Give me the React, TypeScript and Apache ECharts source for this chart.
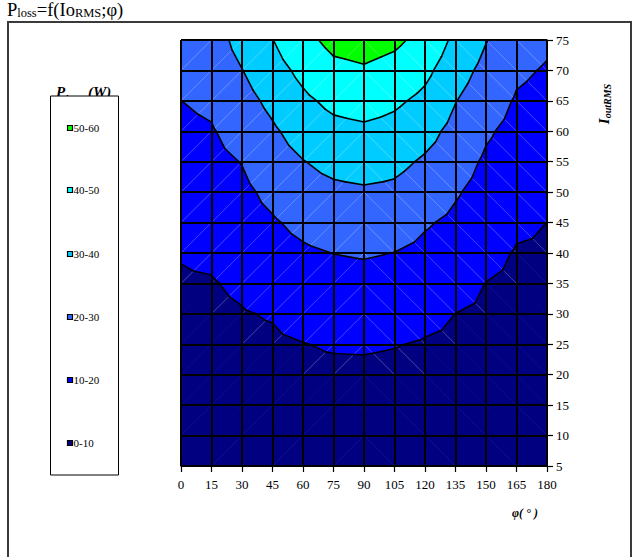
import React, { useEffect, useRef } from 'react';
import * as echarts from 'echarts';

// phase angle φ (°) – x axis
const phiDeg = [0, 15, 30, 45, 60, 75, 90, 105, 120, 135, 150, 165, 180];
// output current IoutRMS (A) – y axis
const currentA = [5, 10, 15, 20, 25, 30, 35, 40, 45, 50, 55, 60, 65, 70, 75];

// P_loss (W) at each current, one list per phase angle
const lossPhi0 = [1.2, 2.5, 3.8, 5.1, 6.4, 7.7, 9.1, 10.5, 12.4, 14.3, 16.2, 18.1, 19.96, 22.2, 24.5];
const lossPhi15 = [1.3, 2.7, 4.0, 5.4, 6.8, 8.1, 9.5, 11.3, 13.3, 15.3, 17.3, 19.35, 21.5, 23.8, 26.0];
const lossPhi30 = [1.5, 3.1, 4.7, 6.3, 7.9, 9.5, 11.4, 13.6, 15.8, 18.0, 20.3, 23.5, 26.6, 29.8, 33.0];
const lossPhi45 = [1.8, 3.5, 5.2, 6.9, 8.6, 10.6, 13.4, 16.3, 19.1, 22.3, 25.5, 28.7, 32.3, 36.1, 39.8];
const lossPhi60 = [2.0, 4.0, 5.9, 7.9, 9.8, 12.8, 15.7, 18.7, 22.2, 25.9, 29.7, 33.9, 38.1, 42.5, 47.2];
const lossPhi75 = [2.2, 4.3, 6.3, 8.4, 10.7, 13.8, 16.9, 20.1, 24.1, 28.1, 32.6, 37.3, 42.3, 47.6, 52.7];
const lossPhi90 = [2.2, 4.3, 6.4, 8.5, 10.8, 14.1, 17.3, 20.7, 24.8, 28.9, 33.6, 38.4, 43.6, 49.0, 54.0];
const lossPhi105 = [2.1, 4.1, 6.1, 8.1, 10.3, 13.5, 16.7, 19.9, 24.0, 28.1, 32.4, 36.9, 41.6, 46.8, 51.9];
const lossPhi120 = [1.9, 3.8, 5.7, 7.5, 9.4, 12.0, 14.9, 17.8, 20.9, 24.9, 28.8, 33.2, 37.7, 42.3, 47.0];
const lossPhi135 = [1.7, 3.4, 5.0, 6.7, 8.3, 9.97, 12.7, 15.4, 18.1, 20.9, 24.0, 27.1, 30.3, 34.1, 37.9];
const lossPhi150 = [1.4, 2.8, 4.2, 5.7, 7.1, 8.5, 9.9, 12.1, 14.3, 16.5, 18.7, 21.2, 24.2, 27.3, 30.4];
const lossPhi165 = [1.2, 2.4, 3.6, 4.8, 5.9, 7.1, 8.3, 9.5, 11.2, 13.2, 15.2, 17.2, 19.2, 21.4, 23.6];
const lossPhi180 = [1.1, 2.2, 3.3, 4.4, 5.5, 6.6, 7.8, 8.9, 9.98, 11.8, 13.7, 15.5, 17.4, 19.3, 21.4];

const lossByPhi = [
  lossPhi0, lossPhi15, lossPhi30, lossPhi45, lossPhi60, lossPhi75, lossPhi90,
  lossPhi105, lossPhi120, lossPhi135, lossPhi150, lossPhi165, lossPhi180,
];

const bandLevels = [0, 10, 20, 30, 40, 50, 60];
const bandLabels = ['0-10', '10-20', '20-30', '30-40', '40-50', '50-60'];
const bandColors = ['#000080', '#0000FF', '#3366FF', '#00CCFF', '#00FFFF', '#00FF00'];

const FONT = '"Liberation Serif", "Times New Roman", serif';

type P3 = [number, number, number];

function clipPoly(poly: P3[], level: number, keepAbove: boolean): P3[] {
  const out: P3[] = [];
  const n = poly.length;
  for (let k = 0; k < n; k++) {
    const a = poly[k];
    const b = poly[(k + 1) % n];
    const ina = keepAbove ? a[2] >= level : a[2] <= level;
    const inb = keepAbove ? b[2] >= level : b[2] <= level;
    if (ina) out.push(a);
    if (ina !== inb) {
      const t = (level - a[2]) / (b[2] - a[2]);
      out.push([a[0] + t * (b[0] - a[0]), a[1] + t * (b[1] - a[1]), level]);
    }
  }
  return out;
}

function cellTriangles(i: number, j: number): P3[][] {
  const p = (a: number, b: number): P3 => [phiDeg[a], currentA[b], lossByPhi[a][b]];
  const bl = p(i, j), br = p(i + 1, j), tr = p(i + 1, j + 1), tl = p(i, j + 1);
  if ((phiDeg[i] + phiDeg[i + 1]) / 2 < 90) return [[bl, br, tr], [bl, tr, tl]];
  return [[bl, br, tl], [br, tr, tl]];
}

export default function App() {
  const ref = useRef<HTMLDivElement>(null);

  useEffect(() => {
    document.body.style.margin = '0';
    if (!ref.current) return;
    const chart = echarts.init(ref.current, null, { renderer: 'svg' });

    const cells: number[][] = [];
    for (let i = 0; i < phiDeg.length - 1; i++) {
      for (let j = 0; j < currentA.length - 1; j++) {
        cells.push([phiDeg[i], currentA[j], i, j]);
      }
    }

    const fillItem = (_params: any, api: any) => {
      const i = api.value(2) as number;
      const j = api.value(3) as number;
      const children: any[] = [];
      const tris = cellTriangles(i, j);
      for (const tri of tris) {
        for (let k = 0; k < bandColors.length; k++) {
          let poly: P3[] = tri;
          if (k > 0) poly = clipPoly(poly, bandLevels[k], true);
          if (k < bandColors.length - 1) poly = clipPoly(poly, bandLevels[k + 1], false);
          if (poly.length < 3) continue;
          const pts = poly.map((q) => api.coord([q[0], q[1]]));
          children.push({
            type: 'polygon',
            shape: { points: pts },
            style: { fill: bandColors[k], stroke: bandColors[k], lineWidth: 0.8 },
          });
        }
      }
      const vals = [lossByPhi[i][j], lossByPhi[i + 1][j], lossByPhi[i][j + 1], lossByPhi[i + 1][j + 1]];
      if (Math.max(...vals) >= 10) {
        const left = (phiDeg[i] + phiDeg[i + 1]) / 2 < 90;
        const a = left ? api.coord([phiDeg[i], currentA[j]]) : api.coord([phiDeg[i], currentA[j + 1]]);
        const b = left ? api.coord([phiDeg[i + 1], currentA[j + 1]]) : api.coord([phiDeg[i + 1], currentA[j]]);
        children.push({
          type: 'line',
          shape: { x1: a[0], y1: a[1], x2: b[0], y2: b[1] },
          style: { stroke: 'rgba(255,255,255,0.3)', lineWidth: 0.8 },
        });
      }
      return { type: 'group', children };
    };

    const lineItem = (_params: any, api: any) => {
      const i = api.value(2) as number;
      const j = api.value(3) as number;
      const children: any[] = [];
      for (const tri of cellTriangles(i, j)) {
        for (let k = 1; k < bandLevels.length - 1; k++) {
          const L = bandLevels[k];
          const pts: number[][] = [];
          for (let e = 0; e < 3; e++) {
            const a = tri[e];
            const b = tri[(e + 1) % 3];
            if ((a[2] - L) * (b[2] - L) < 0) {
              const t = (L - a[2]) / (b[2] - a[2]);
              pts.push(api.coord([a[0] + t * (b[0] - a[0]), a[1] + t * (b[1] - a[1])]));
            }
          }
          if (pts.length === 2) {
            children.push({
              type: 'line',
              shape: { x1: pts[0][0], y1: pts[0][1], x2: pts[1][0], y2: pts[1][1] },
              style: { stroke: '#000', lineWidth: 1.6, lineCap: 'round' },
            });
          }
        }
      }
      return { type: 'group', children };
    };

    const legendCenters = [443, 380, 317, 254, 190, 128];
    const legendGraphics: any[] = [];
    for (let k = 0; k < bandLabels.length; k++) {
      const cy = legendCenters[k];
      legendGraphics.push({
        type: 'rect',
        shape: { x: 67.5, y: cy - 2.5, width: 5, height: 5 },
        style: { fill: bandColors[k], stroke: '#000', lineWidth: 1.2 },
      });
      legendGraphics.push({
        type: 'text',
        x: 73.5,
        y: cy,
        style: { text: bandLabels[k], fontFamily: FONT, fontSize: 11, fill: '#000', verticalAlign: 'middle', align: 'left' },
      });
    }

    const boldIt = { fontFamily: FONT, fontWeight: 'bold', fontStyle: 'italic', fill: '#000', color: '#000' };

    chart.setOption({
      animation: false,
      textStyle: { fontFamily: FONT },
      grid: { left: 181, right: 88, top: 40, bottom: 91, containLabel: false, outerBoundsMode: 'none' },
      xAxis: {
        type: 'value',
        min: 0,
        max: 180,
        interval: 15,
        position: 'bottom',
        z: 5,
        axisLine: { show: true, onZero: false, lineStyle: { color: '#000', width: 1.5 } },
        axisTick: { show: true, inside: false, length: 6, lineStyle: { color: '#000', width: 1.2 } },
        axisLabel: { color: '#000', fontFamily: FONT, fontSize: 13, margin: 12 },
        splitLine: { show: true, lineStyle: { color: '#000', width: 2 } },
      },
      yAxis: {
        type: 'value',
        min: 5,
        max: 75,
        interval: 5,
        position: 'right',
        z: 5,
        axisLine: { show: true, onZero: false, lineStyle: { color: '#000', width: 1.5 } },
        axisTick: { show: true, inside: false, length: 6, lineStyle: { color: '#000', width: 1.2 } },
        axisLabel: { color: '#000', fontFamily: FONT, fontSize: 13, margin: 9 },
        splitLine: { show: true, lineStyle: { color: '#000', width: 2 } },
      },
      series: [
        { type: 'custom', renderItem: fillItem, data: cells, z: 1, silent: true, clip: true },
        { type: 'custom', renderItem: lineItem, data: cells, z: 3, silent: true, clip: true },
      ],
      graphic: [
        {
          type: 'rect',
          shape: { x: 8, y: 22, width: 623, height: 600 },
          style: { fill: 'none', stroke: '#3a3a3a', lineWidth: 2 },
        },
        {
          type: 'text',
          x: 7,
          y: 0,
          style: {
            text: '{m|P}{s|loss}{m|=f(Io}{s|RMS}{m|;φ)}',
            align: 'left',
            verticalAlign: 'top',
            rich: {
              m: { fontFamily: FONT, fontSize: 18.5, lineHeight: 19, verticalAlign: 'top', fill: '#000', color: '#000' },
              s: { fontFamily: FONT, fontSize: 12.5, lineHeight: 12, padding: [10, 0, 0, 0], verticalAlign: 'bottom', fill: '#000', color: '#000' },
            },
          },
        },
        // legend title: subscript sits mostly under the legend box, as in the reference
        {
          type: 'text',
          x: 56,
          y: 99,
          style: { text: 'P', ...boldIt, fontSize: 15, align: 'left', verticalAlign: 'bottom' },
        },
        {
          type: 'text',
          x: 65.5,
          y: 93.5,
          style: { text: 'loss', ...boldIt, fontSize: 10, align: 'left', verticalAlign: 'top' },
        },
        {
          type: 'text',
          x: 88,
          y: 99,
          style: { text: '(W)', ...boldIt, fontSize: 15, align: 'left', verticalAlign: 'bottom' },
        },
        {
          type: 'rect',
          shape: { x: 50.5, y: 96, width: 68, height: 379 },
          style: { fill: '#fff', stroke: '#000', lineWidth: 1 },
        },
        ...legendGraphics,
        {
          type: 'text',
          x: 604,
          y: 104,
          rotation: Math.PI / 2,
          style: {
            text: '{m|I}{s|outRMS}',
            align: 'center',
            verticalAlign: 'middle',
            rich: {
              m: { ...boldIt, fontSize: 15, lineHeight: 16, verticalAlign: 'top' },
              s: { ...boldIt, fontSize: 10, lineHeight: 10, padding: [9, 0, 0, 0], verticalAlign: 'bottom' },
            },
          },
        },
        {
          type: 'text',
          x: 525,
          y: 513,
          style: { text: 'φ( ° )', ...boldIt, fontSize: 12, align: 'center', verticalAlign: 'middle' },
        },
      ],
    });

    return () => {
      chart.dispose();
    };
  }, []);

  return <div ref={ref} style={{ width: 635, height: 557 }} />;
}
